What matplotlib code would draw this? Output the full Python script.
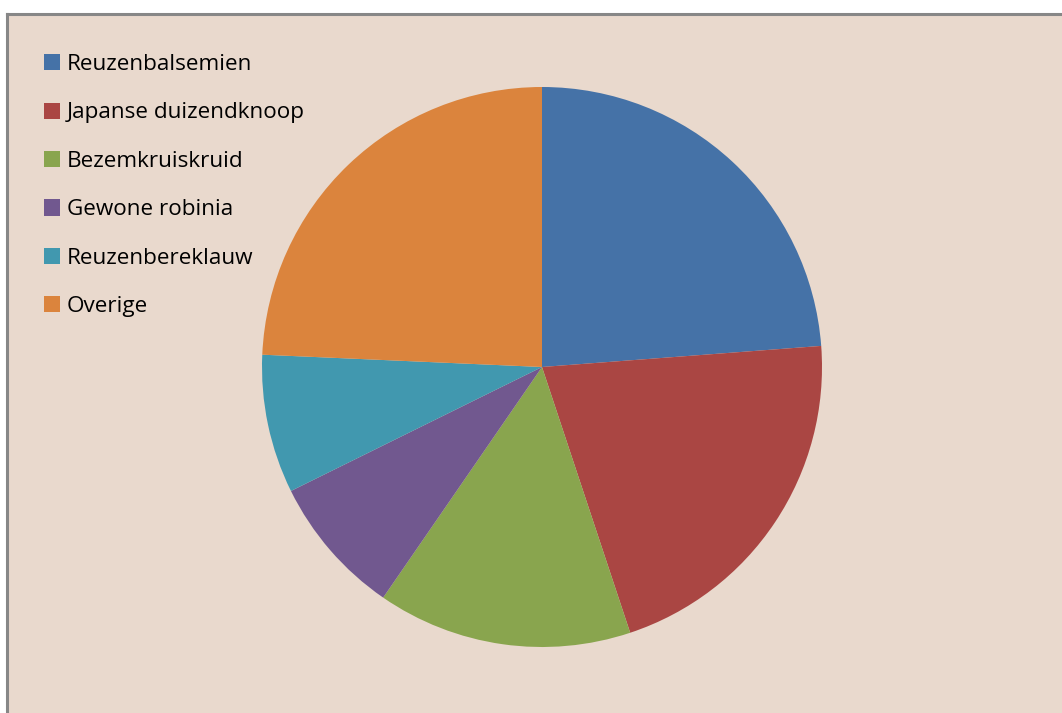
import matplotlib.pyplot as plt
from matplotlib.patches import Rectangle

# share of each species (percent)
labels = ['Reuzenbalsemien', 'Japanse duizendknoop', 'Bezemkruiskruid',
          'Gewone robinia', 'Reuzenbereklauw', 'Overige']
values = [23.8, 21.1, 14.7, 8.1, 8.0, 24.3]
colors = ['#4572A7', '#AA4643', '#89A54E', '#71588F', '#4198AF', '#DB843D']

W, H = 1062, 713
fig = plt.figure(figsize=(W/100, H/100), dpi=100, facecolor='white')

# chart area with a grey frame on top and left
bg = Rectangle((7/W, 0), 1 - 7/W, (H - 14)/H, transform=fig.transFigure,
               facecolor='#E9D9CD', edgecolor='none', zorder=-2)
fig.patches.append(bg)
fig.add_artist(plt.Line2D([7/W, 1], [(H - 14)/H]*2, color='#878787', lw=2.2,
                          transform=fig.transFigure, zorder=-1))
fig.add_artist(plt.Line2D([7/W]*2, [0, (H - 14)/H], color='#878787', lw=2.2,
                          transform=fig.transFigure, zorder=-1))

# pie: centre (542, 367) px, radius 280 px
cx, cy, r = 542, 367, 280
ax = fig.add_axes([(cx - r)/W, (H - cy - r)/H, 2*r/W, 2*r/H])
ax.set_facecolor('none')
wedges, _ = ax.pie(values, colors=colors, startangle=90, counterclock=False,
                   radius=1.0, wedgeprops=dict(linewidth=0))
ax.set_xlim(-1, 1)
ax.set_ylim(-1, 1)
ax.set_aspect('auto')
ax.axis('off')

fs = 16.2
leg = fig.legend(wedges, labels, loc='upper left',
                 bbox_to_anchor=(44/W, 1 - 54/H), frameon=False,
                 prop=dict(family='Open Sans', size=fs),
                 handlelength=0.72, handleheight=0.72, handletextpad=0.3,
                 labelspacing=1.22, borderaxespad=0, borderpad=0)
for t in leg.get_texts():
    t.set_color('#000000')

fig.savefig('out.png', dpi=100, facecolor='white')
